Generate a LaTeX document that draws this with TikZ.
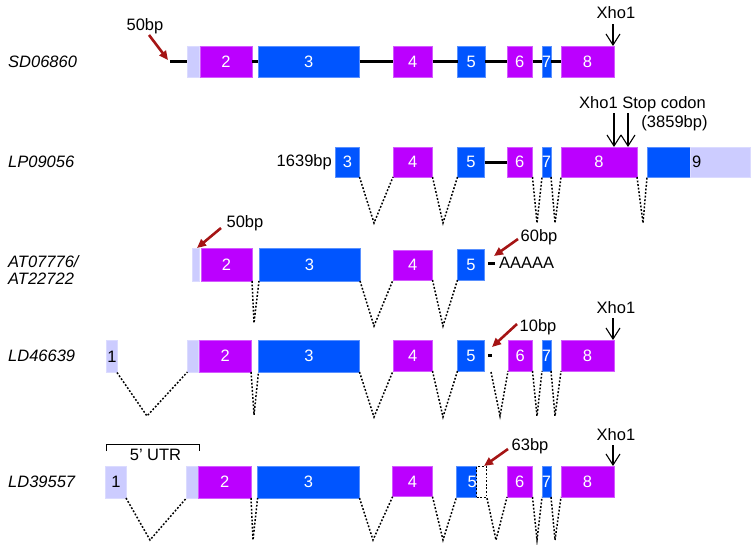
\documentclass[tikz,border=0pt]{standalone}
\usepackage{fontspec}
\setmainfont{Liberation Sans}
\usetikzlibrary{arrows.meta}
\definecolor{purp}{RGB}{187,0,255}
\definecolor{exblue}{RGB}{0,85,255}
\definecolor{lav}{RGB}{204,204,255}
\definecolor{arrred}{RGB}{165,20,20}
% name, x1, x2, y1, y2, style, label
\newcommand\exon[7]{\node[exbox,#6,minimum width={(#3-#2)*1pt},minimum height={(#5-#4)*1pt},label={[exlabel]center:#7}] (#1) at ({(#2+#3)/2},{(#4+#5)/2}) {};}
\begin{document}
\begin{tikzpicture}[x=1pt,y=-1pt,
  font=\fontsize{16.5}{18}\selectfont,
  exbox/.style={rectangle,inner sep=0pt,outer sep=0pt},
  exlabel/.style={inner sep=0pt,text=white},
  pu/.style={fill=purp,draw=purp!65!white,line width=0.6pt},
  bl/.style={fill=exblue,draw=exblue!65!white,line width=0.6pt},
  lv/.style={fill=lav,draw=lav!70!white,line width=0.6pt},
  intron/.style={line width=3pt,black},
  splice/.style={dash pattern=on 1.8pt off 1.8pt,line width=1.5pt,black},
  xarr/.style={line width=1.1pt,-{Straight Barb[length=11pt,width=14pt]}},
  redarr/.style={line width=2.6pt,arrred,-{Triangle[length=9pt,width=8pt]}},
  txt/.style={inner sep=0pt,text=black},
  estname/.style={inner sep=0pt,anchor=west,font=\fontsize{16.5}{18}\selectfont\itshape}]
\useasboundingbox (0,0) rectangle (751,544);

% ---------------- left labels
\node[estname] (n1) at (8,62) {SD06860};
\node[estname] (n2) at (8,162) {LP09056};
\node[estname] (n3a) at (8,262) {AT07776/};
\node[estname] (n3b) at (8,279) {AT22722};
\node[estname] (n4) at (8,356) {LD46639};
\node[estname] (n5) at (8,482) {LD39557};

% ---------------- row 1: SD06860
\exon{r1L}{187}{199.5}{46}{77}{lv}{}
\exon{r1e2}{200}{252}{46}{77}{pu}{2}
\exon{r1e3}{258}{359.5}{46}{77}{bl}{3}
\exon{r1e4}{393}{432.5}{46}{77}{pu}{4}
\exon{r1e5}{457.5}{485}{46}{77}{bl}{5}
\exon{r1e6}{507}{532.5}{46}{77}{pu}{6}
\exon{r1e7}{542}{551}{46}{77}{bl}{7}
\exon{r1e8}{561}{614}{46}{77}{pu}{8}
\coordinate (r1s) at (170,61.5);
\draw[intron] (r1s) -- (r1L.west);
\draw[intron] (r1e2.east) -- (r1e3.west);
\draw[intron] (r1e3.east) -- (r1e4.west);
\draw[intron] (r1e4.east) -- (r1e5.west);
\draw[intron] (r1e5.east) -- (r1e6.west);
\draw[intron] (r1e6.east) -- (r1e7.west);
\draw[intron] (r1e7.east) -- (r1e8.west);
\node[txt] (b50a) at (145,26) {50bp};
\coordinate (a1s) at (149,35);
\coordinate (a1e) at (168,60);
\draw[redarr] (a1s) -- (a1e);
\node[txt] (x1) at (616,13) {Xho1};
\coordinate (x1s) at (613,24);
\coordinate (x1e) at (613,46);
\draw[xarr] (x1s) -- (x1e);

% ---------------- row 2: LP09056
\exon{r2e3}{335.5}{359.5}{147}{177}{bl}{3}
\exon{r2e4}{393}{432.5}{147}{177}{pu}{4}
\exon{r2e5}{457.5}{484.5}{147}{177}{bl}{5}
\exon{r2e6}{507}{532.5}{147}{177}{pu}{6}
\exon{r2e7}{542}{551}{147}{177}{bl}{7}
\exon{r2e8}{561}{637}{147}{177}{pu}{8}
\exon{r2e9}{647}{690}{147}{177}{bl}{}
\exon{r2e9u}{690}{750}{147}{177}{lv}{}
\node[txt,anchor=west] (r2n9) at (692,162) {9};
\draw[intron] (r2e5.east) -- (r2e6.west);
\node[txt,anchor=east] (b1639) at (332,162) {1639bp};
\node[txt] (xs) at (642.5,104) {Xho1 Stop codon};
\node[txt] (b3859) at (674.5,123) {(3859bp)};
\coordinate (x2s) at (614,113);
\coordinate (x2e) at (614,147);
\coordinate (s2s) at (628,113);
\coordinate (s2e) at (628,147);
\draw[xarr] (x2s) -- (x2e);
\draw[xarr] (s2s) -- (s2e);
\coordinate (v21) at (374,223);
\coordinate (v22) at (443,223);
\coordinate (v23) at (537,223);
\coordinate (v24) at (555,223);
\coordinate (v25) at (643,223);
\draw[splice] (r2e3.south east) -- (v21) -- (r2e4.south west);
\draw[splice] (r2e4.south east) -- (v22) -- (r2e5.south west);
\draw[splice] (r2e6.south east) -- (v23) -- (r2e7.south west);
\draw[splice] (r2e7.south east) -- (v24) -- (r2e8.south west);
\draw[splice] (r2e8.south east) -- (v25) -- (r2e9.south west);

% ---------------- row 3: AT07776/AT22722
\exon{r3L}{192}{199.5}{248.5}{281}{lv}{}
\exon{r3e2}{201}{252}{248.5}{281}{pu}{2}
\exon{r3e3}{259}{360}{248.5}{281}{bl}{3}
\exon{r3e4}{393}{432.5}{250}{280}{pu}{4}
\exon{r3e5}{457.5}{484.5}{249}{280}{bl}{5}
\coordinate (r3t1) at (488,263);
\coordinate (r3t2) at (495,263);
\draw[intron] (r3t1) -- (r3t2);
\node[txt,anchor=west] (polyA) at (499,263) {AAAAA};
\node[txt] (b50b) at (245,223) {50bp};
\coordinate (a3s) at (221,228);
\coordinate (a3e) at (197,248);
\draw[redarr] (a3s) -- (a3e);
\node[txt] (b60) at (539,237) {60bp};
\coordinate (a4s) at (518,239);
\coordinate (a4e) at (494,256);
\draw[redarr] (a4s) -- (a4e);
\coordinate (v31) at (254,323);
\coordinate (v32) at (374,326);
\coordinate (v33) at (443,326);
\draw[splice] (r3e2.south east) -- (v31) -- (r3e3.south west);
\draw[splice] (r3e3.south east) -- (v32) -- (r3e4.south west);
\draw[splice] (r3e4.south east) -- (v33) -- (r3e5.south west);

% ---------------- row 4: LD46639
\exon{r4e1}{106.7}{117}{340.5}{372.5}{lv}{\textcolor{black}{1}}
\exon{r4L}{187.4}{198}{340}{372}{lv}{}
\exon{r4e2}{199.4}{251}{340}{372}{pu}{2}
\exon{r4e3}{258.5}{359.5}{340}{372}{bl}{3}
\exon{r4e4}{393}{432.5}{340}{371}{pu}{4}
\exon{r4e5}{457.5}{484.5}{340}{371}{bl}{5}
\exon{r4e6}{508}{532.5}{340}{371}{pu}{6}
\exon{r4e7}{542}{551}{340}{371}{bl}{7}
\exon{r4e8}{561}{614}{340}{371}{pu}{8}
\coordinate (r4t1) at (488,355);
\coordinate (r4t2) at (492,355);
\draw[intron] (r4t1) -- (r4t2);
\node[txt] (x4) at (616,308) {Xho1};
\coordinate (x4s) at (613,318);
\coordinate (x4e) at (613,340);
\draw[xarr] (x4s) -- (x4e);
\node[txt] (b10) at (538,327) {10bp};
\coordinate (a5s) at (517,324);
\coordinate (a5e) at (492,347);
\draw[redarr] (a5s) -- (a5e);
\coordinate (r4d) at (491,372);
\coordinate (v41) at (147,416);
\coordinate (v42) at (254,415);
\coordinate (v43) at (374,417);
\coordinate (v44) at (443,417);
\coordinate (v45) at (500,416);
\coordinate (v46) at (537,416);
\coordinate (v47) at (555,416);
\draw[splice] (r4e1.south east) -- (v41) -- (r4L.south west);
\draw[splice] (r4e2.south east) -- (v42) -- (r4e3.south west);
\draw[splice] (r4e3.south east) -- (v43) -- (r4e4.south west);
\draw[splice] (r4e4.south east) -- (v44) -- (r4e5.south west);
\draw[splice] (r4d) -- (v45) -- (r4e6.south west);
\draw[splice] (r4e6.south east) -- (v46) -- (r4e7.south west);
\draw[splice] (r4e7.south east) -- (v47) -- (r4e8.south west);

% ---------------- row 5: LD39557
\coordinate (u1) at (106.7,451);
\coordinate (u2) at (106.7,444);
\coordinate (u3) at (199.4,444);
\coordinate (u4) at (199.4,451);
\draw[line width=1pt] (u1) -- (u2) -- (u3) -- (u4);
\node[txt] (utr) at (155.5,455) {5’ UTR};
\exon{r5e1}{105.7}{126}{466}{498}{lv}{\textcolor{black}{1}}
\exon{r5L}{186.4}{198}{466}{498}{lv}{}
\exon{r5e2}{198.5}{251}{466}{498}{pu}{2}
\exon{r5e3}{257.6}{359.5}{466}{498}{bl}{3}
\exon{r5e4}{392.6}{432.5}{466.7}{496.7}{pu}{4}
\exon{r5e5}{456.5}{476.7}{466}{497}{bl}{}
\node[exlabel,anchor=east] (r5n5) at (477,482) {5};
\node[rectangle,draw,dash pattern=on 1.8pt off 1.8pt,line width=1.3pt,inner sep=0pt,minimum width=9.6pt,minimum height=31pt] (r5d) at (481.5,482) {};
\exon{r5e6}{507}{532.5}{466}{497}{pu}{6}
\exon{r5e7}{542}{551}{466}{497}{bl}{7}
\exon{r5e8}{561}{614}{466}{497}{pu}{8}
\node[txt] (x5) at (616,435) {Xho1};
\coordinate (x5s) at (613,445);
\coordinate (x5e) at (613,466);
\draw[xarr] (x5s) -- (x5e);
\node[txt] (b63) at (530,446) {63bp};
\coordinate (a6s) at (508,449);
\coordinate (a6e) at (484,466);
\draw[redarr] (a6s) -- (a6e);
\coordinate (v51) at (150,540);
\coordinate (v52) at (253,540);
\coordinate (v53) at (373,540);
\coordinate (v54) at (443,540);
\coordinate (v55) at (496,540);
\coordinate (v56) at (537,540);
\coordinate (v57) at (555,540);
\draw[splice] (r5e1.south east) -- (v51) -- (r5L.south west);
\draw[splice] (r5e2.south east) -- (v52) -- (r5e3.south west);
\draw[splice] (r5e3.south east) -- (v53) -- (r5e4.south west);
\draw[splice] (r5e4.south east) -- (v54) -- (r5e5.south west);
\draw[splice] (r5d.south east) -- (v55) -- (r5e6.south west);
\draw[splice] (r5e6.south east) -- (v56) -- (r5e7.south west);
\draw[splice] (r5e7.south east) -- (v57) -- (r5e8.south west);
\end{tikzpicture}
\end{document}
